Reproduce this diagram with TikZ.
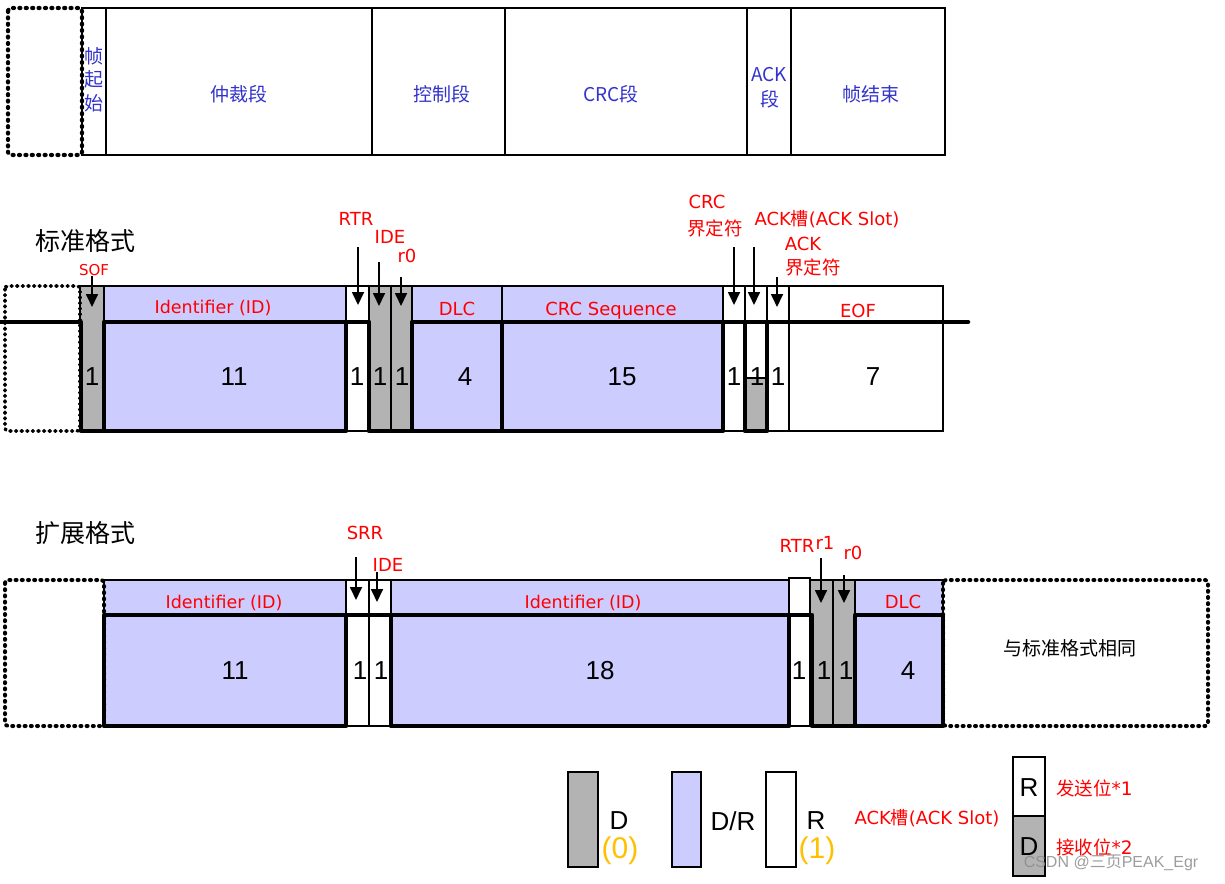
\documentclass[tikz,border=0pt]{standalone}
\usepackage{fontspec}
\setmainfont{Liberation Sans}
\newfontfamily\cjk{Noto Sans CJK SC}
\newfontfamily\dvs{DejaVu Sans}
\usetikzlibrary{arrows.meta}
\definecolor{lblue}{HTML}{CCCCFF}
\definecolor{dgray}{HTML}{B3B3B3}
\definecolor{tblue}{HTML}{3333CC}
\definecolor{lred}{HTML}{FF0000}
\definecolor{orng}{HTML}{FFC000}
\tikzset{
 thinb/.style={line width=1.3pt},
 wave/.style={line width=4.5pt, line join=round},
 dotbox/.style={line width=4pt, dash pattern=on 1pt off 5.2pt, line cap=round, rounded corners=3pt},
 arr/.style={line width=1.7pt, -{Triangle[width=12pt,length=13pt]}},
 lab/.style={text=lred, font=\dvs\fontsize{18}{20}\selectfont, inner sep=0pt, anchor=base},
 cjklab/.style={text=lred, font=\cjk\fontsize{18.5}{20}\selectfont, inner sep=0pt},
 num/.style={font=\fontsize{26}{28}\selectfont, inner sep=0pt},
 seg/.style={text=tblue, font=\cjk\fontsize{19}{23.5}\selectfont, inner sep=0pt, align=center},
 ttl/.style={font=\cjk\fontsize{25}{28}\selectfont, inner sep=0pt},
 leg/.style={font=\fontsize{26}{28}\selectfont, inner sep=0pt},
 orn/.style={text=orng, font=\fontsize{30}{32}\selectfont, inner sep=0pt},
}
\newcommand\canfield[5]{\fill[#5] (#1,#3) rectangle (#2,#4); \draw[thinb] (#1,#3) rectangle (#2,#4);}
\newcommand\canarrow[4]{\coordinate (#1s) at (#2,#3); \coordinate (#1e) at (#2,#4); \draw[arr] (#1s) -- (#1e);}
\begin{document}
\begin{tikzpicture}[x=1pt,y=-1pt]
\useasboundingbox (0,0) rectangle (1225,883);
\fill[white] (0,0) rectangle (1225,883);

% ---------- top row ----------
\draw[dotbox, line width=4.2pt, dash pattern=on 1pt off 5.4pt] (8,8) rectangle (82,155);
\draw[line width=1.8pt] (82,8) rectangle (945,155);
\foreach \xx in {106,372,505,747,791} \draw[line width=1.8pt] (\xx,8) -- (\xx,155);
\node[seg] (t0) at (94,56) {帧};
\node[seg] (t1) at (94,79.5) {起};
\node[seg] (t2) at (94,103) {始};
\node[seg] (t3) at (239,94) {仲裁段};
\node[seg] (t4) at (442,94) {控制段};
\node[seg] (t5) at (611,94) {CRC段};
\node[seg] (t6) at (769,75) {ACK};
\node[seg] (t7) at (770,99) {段};
\node[seg] (t8) at (871,94) {帧结束};

% ---------- standard format ----------
\node[ttl] (st) at (85,241) {标准格式};
\canfield{80}{104}{286}{431}{dgray}
\canfield{104}{346}{286}{431}{lblue}
\canfield{346}{369}{286}{431}{white}
\canfield{369}{391}{286}{431}{dgray}
\canfield{391}{412}{286}{431}{dgray}
\canfield{412}{502}{286}{431}{lblue}
\canfield{502}{723}{286}{431}{lblue}
\canfield{723}{745}{286}{431}{white}
\canfield{745}{767}{286}{431}{white}
\canfield{767}{789}{286}{431}{white}
\canfield{789}{943}{286}{431}{white}
\fill[dgray] (745,378) rectangle (767,431);
\draw[thinb] (745,378) -- (767,378);
\draw[dotbox, line width=3.6pt, dash pattern=on 1pt off 4.6pt] (5,286) rectangle (80,431);
% waveform
\draw[wave] (0,322) -- (81,322) -- (81,431) -- (104,431);
\draw[wave] (104,322) rectangle (346,431);
\draw[wave] (346,322) -- (369,322) -- (369,431) -- (412,431) -- (412,322);
\draw[wave] (412,322) rectangle (502,431);
\draw[wave] (502,322) rectangle (723,431);
\draw[wave, line cap=round] (723,322) -- (968,322);
\draw[wave] (745,322) -- (745,431) -- (767,431) -- (767,322);
% labels
\node[lab, font=\dvs\fontsize{15}{17}\selectfont] (lsof) at (94,275) {SOF};
\node[lab] (lrtr) at (356,225) {RTR};
\node[lab] (lide) at (390,243) {IDE};
\node[lab] (lr0) at (407,262) {r0};
\node[lab, font=\dvs\fontsize{17.5}{19}\selectfont] (lid) at (213,313) {Identifier (ID)};
\node[lab] (ldlc) at (457,315) {DLC};
\node[lab] (lcrc) at (611,315) {CRC Sequence};
\node[lab] (lcrcd) at (707,208) {CRC};
\node[cjklab] (lcrcd2) at (715,228) {界定符};
\node[lab] (lack) at (827,225) {ACK{\cjk 槽}(ACK Slot)};
\node[lab] (lackd) at (803,250) {ACK};
\node[cjklab] (lackd2) at (813,267) {界定符};
\node[lab] (leof) at (858,317) {EOF};
\canarrow{aS}{92}{276}{307}
\canarrow{aR}{358}{247}{305}
\canarrow{aI}{379}{262}{306}
\canarrow{aZ}{401}{277}{306}
\canarrow{aC}{734}{247}{305}
\canarrow{aA}{754}{247}{305}
\canarrow{aD}{777}{277}{307}
% numbers
\node[num] (n1) at (92,377) {1};
\node[num] (n2) at (234,377) {11};
\node[num] (n3) at (357,377) {1};
\node[num] (n4) at (380,377) {1};
\node[num] (n5) at (402,377) {1};
\node[num] (n6) at (465,377) {4};
\node[num] (n7) at (622,377) {15};
\node[num] (n8) at (734,377) {1};
\node[num] (n9) at (757,377) {1};
\node[num] (n10) at (778,377) {1};
\node[num] (n11) at (873,377) {7};

% ---------- extended format ----------
\node[ttl] (et) at (85,533) {扩展格式};
\canfield{104}{346}{580}{726}{lblue}
\canfield{346}{369}{580}{726}{white}
\canfield{369}{391}{580}{726}{white}
\canfield{391}{789}{580}{726}{lblue}
\canfield{789}{810}{578}{726}{white}
\canfield{810}{833}{580}{726}{dgray}
\canfield{833}{855}{580}{726}{dgray}
\canfield{855}{943}{580}{726}{lblue}
\draw[dotbox] (5,580) rectangle (104,726);
\draw[dotbox] (943,580) rectangle (1208,726);
\draw[wave] (104,615) rectangle (346,726);
\draw[wave] (346,615) -- (391,615);
\draw[wave] (391,615) rectangle (789,726);
\draw[wave] (789,615) -- (812,615) -- (812,726) -- (855,726) -- (855,615);
\draw[wave] (855,615) rectangle (943,726);
\node[lab] (esrr) at (365,539) {SRR};
\node[lab] (eide) at (388,571) {IDE};
\node[lab, font=\dvs\fontsize{17.5}{19}\selectfont] (eid1) at (224,608) {Identifier (ID)};
\node[lab, font=\dvs\fontsize{17.5}{19}\selectfont] (eid2) at (583,608) {Identifier (ID)};
\node[lab] (ertr) at (797,552) {RTR};
\node[lab] (er1) at (825,549) {r1};
\node[lab] (er0) at (853,559) {r0};
\node[lab] (edlc) at (903,608) {DLC};
\canarrow{bS}{356}{557}{600}
\canarrow{bI}{377}{572}{602}
\canarrow{bR}{821}{558}{603}
\canarrow{bZ}{844}{575}{603}
\node[num] (m1) at (235,671) {11};
\node[num] (m2) at (360,671) {1};
\node[num] (m3) at (381,671) {1};
\node[num] (m4) at (600,671) {18};
\node[num] (m5) at (799,671) {1};
\node[num] (m6) at (824,671) {1};
\node[num] (m7) at (846,671) {1};
\node[num] (m8) at (908,671) {4};
\node[font=\cjk\fontsize{19}{21}\selectfont, inner sep=0pt] (same) at (1070,648) {与标准格式相同};

% ---------- legend ----------
\canfield{568}{598}{772}{867}{dgray}
\canfield{672}{701}{772}{867}{lblue}
\canfield{766}{796}{772}{867}{white}
\node[leg] (gD) at (619,821) {D};
\node[orn] (g0) at (620,851) {(0)};
\node[leg] (gDR) at (733,821) {D/R};
\node[leg] (gR) at (816,821) {R};
\node[orn] (g1) at (817,851) {(1)};
\node[lab, anchor=center] (gack) at (927,818) {ACK{\cjk 槽}(ACK Slot)};
\canfield{1013}{1045}{757}{816}{white}
\canfield{1013}{1045}{816}{876}{dgray}
\node[leg] (kR) at (1029,788) {R};
\node[leg] (kD) at (1029,847) {D};
\node[cjklab, anchor=west] (ks) at (1056,788) {发送位{\dvs *1}};
\node[cjklab, anchor=west] (kr) at (1056,847) {接收位{\dvs *2}};
\node[text=black!45, opacity=0.85, font=\fontsize{16}{18}\selectfont, inner sep=0pt] (wm) at (1111,863) {CSDN @{\cjk 三页}PEAK\_Egr};
\end{tikzpicture}
\end{document}
